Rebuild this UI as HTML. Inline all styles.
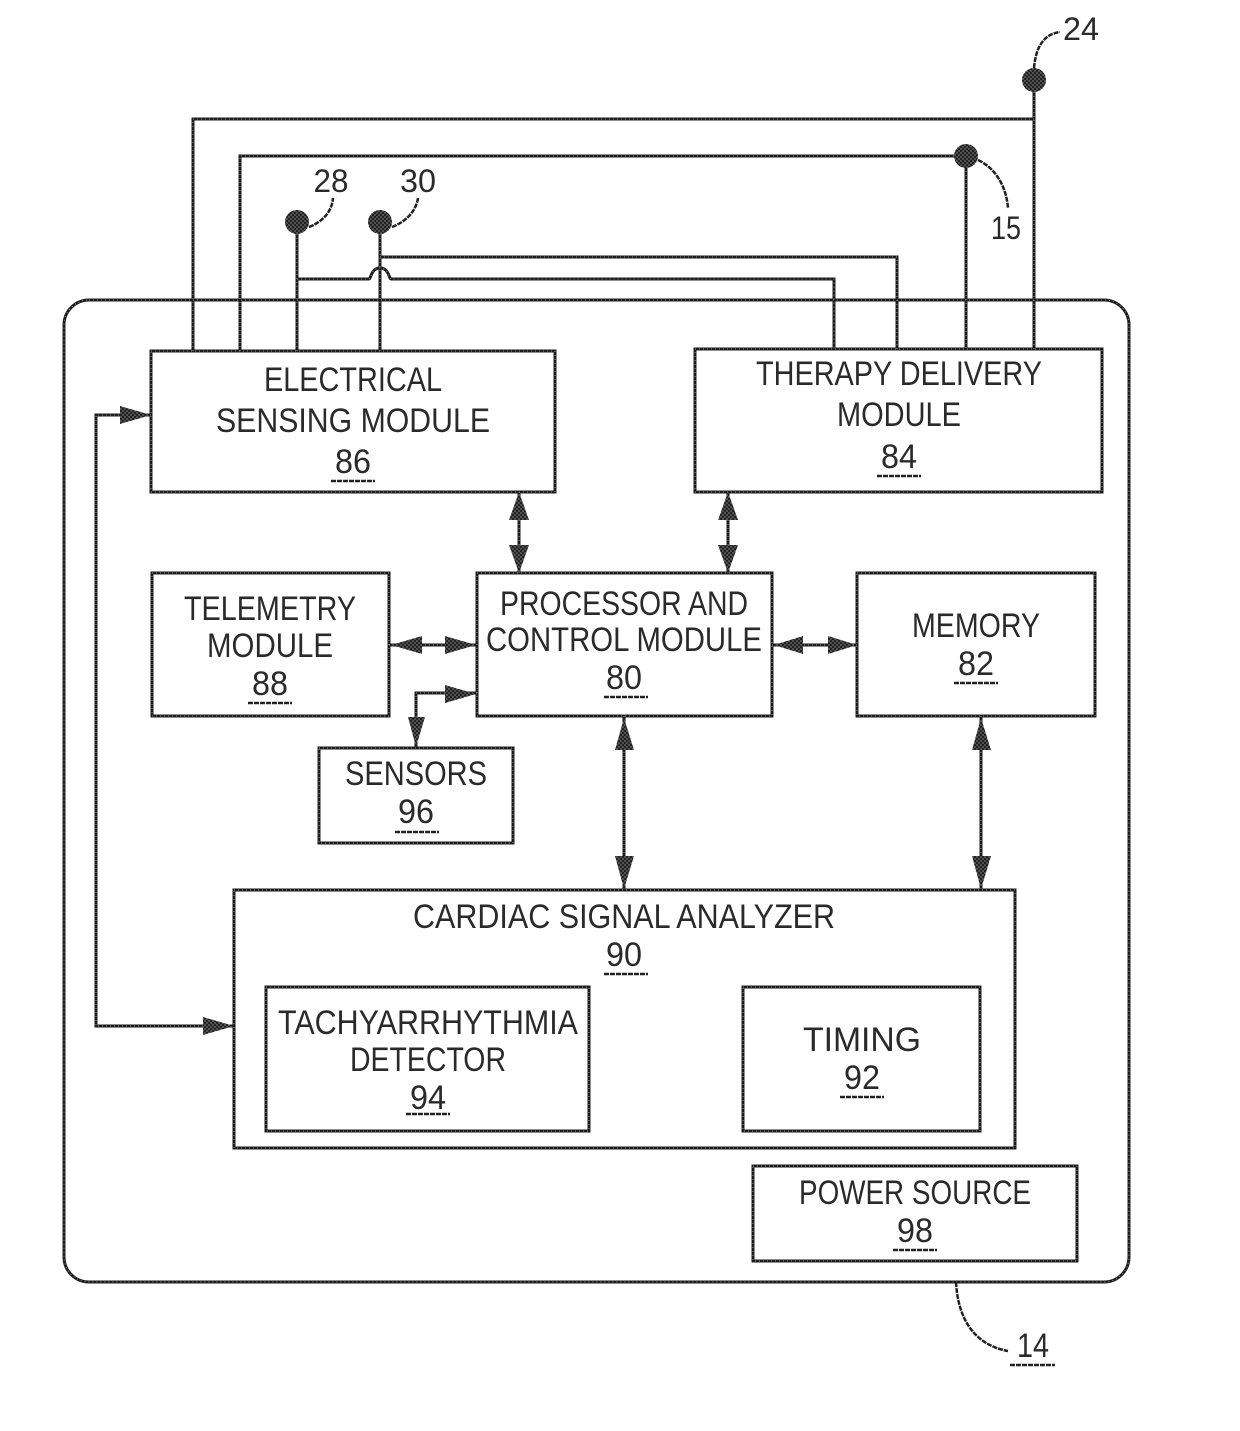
<!DOCTYPE html>
<html>
<head>
<meta charset="utf-8">
<style>
html,body{margin:0;padding:0;background:#fff;}
svg{display:block;}
text{font-family:"Liberation Sans",sans-serif;font-size:34px;fill:#2a2a2a;text-anchor:middle;}
.b,.w{fill:none;stroke:var(--s,#1c1c1c);stroke-width:var(--sw,3);stroke-dasharray:var(--da,none);}
.t{fill:none;stroke:#222;stroke-width:2.5;stroke-dasharray:5 1;}
.a,.d{fill:url(#dots);stroke:none;}
.over{--s:#fff;--sw:1;--da:1 3;opacity:.55;}
</style>
</head>
<body>
<svg width="1240" height="1431" viewBox="0 0 1240 1431" xmlns="http://www.w3.org/2000/svg">
<defs>
<pattern id="dots" width="4" height="4" patternUnits="userSpaceOnUse">
<rect width="4" height="4" fill="#222"/>
<circle cx="1" cy="1" r=".6" fill="#fff" opacity=".75"/>
<circle cx="3" cy="3" r=".6" fill="#fff" opacity=".75"/>
</pattern>
</defs>
<rect width="1240" height="1431" fill="#fff"/>
<g id="lines">
<!-- housing -->
<rect class="b" x="64" y="300" width="1065" height="982" rx="25" ry="25"/>
<!-- wires -->
<path class="w" d="M193 351V119H1034M1034 80V349"/>
<path class="w" d="M240 351V156H966V349"/>
<path class="w" d="M297 222V351M380 222V351"/>
<path class="w" d="M297 279H369C371 279 371 268 380 268C389 268 389 279 391 279H834V349"/>
<path class="w" d="M380 257H897V349"/>
<!-- boxes -->
<rect class="b" x="151" y="351" width="404" height="141"/>
<rect class="b" x="695" y="349" width="407" height="143"/>
<rect class="b" x="152" y="573" width="237" height="143"/>
<rect class="b" x="477" y="573" width="295" height="143"/>
<rect class="b" x="857" y="573" width="238" height="143"/>
<rect class="b" x="319" y="748" width="194" height="95"/>
<rect class="b" x="234" y="890" width="781" height="258"/>
<rect class="b" x="266" y="987" width="323" height="144"/>
<rect class="b" x="743" y="987" width="237" height="144"/>
<rect class="b" x="753" y="1166" width="324" height="95"/>
<!-- connector lines -->
<path class="w" d="M519 492V573M728 492V573M389 645H477M772 645H857M477 693H416V748M624 716V890M981 716V890M151 415H96V1026H234"/>
</g>
<g class="over"><use href="#lines"/></g>
<!-- terminals -->
<circle class="d" cx="1034" cy="80" r="12"/>
<circle class="d" cx="966" cy="156" r="12"/>
<circle class="d" cx="297" cy="222" r="12"/>
<circle class="d" cx="380" cy="222" r="12"/>
<!-- leaders -->
<path class="t" d="M1034 68C1036 45 1045 34 1060 32"/>
<path class="t" d="M978 160C995 168 1006 185 1008 208"/>
<path class="t" d="M309 227C322 222 332 212 333 198"/>
<path class="t" d="M392 227C405 222 416 212 418 198"/>
<path class="t" d="M956 1282C958 1320 975 1345 1008 1351"/>
<!-- arrowheads -->
<path class="a" d="M519 492L509 520H529Z M519 573L509 545H529Z"/>
<path class="a" d="M728 492L718 520H738Z M728 573L718 545H738Z"/>
<path class="a" d="M391 645L422 636V654Z M476 645L445 636V654Z"/>
<path class="a" d="M774 645L803 636V654Z M857 645L828 636V654Z"/>
<path class="a" d="M476 694L445 685V703Z M416 747L408 717H425Z"/>
<path class="a" d="M624 718L615 750H634Z M624 889L615 856H634Z"/>
<path class="a" d="M981 718L972 750H991Z M981 889L972 856H991Z"/>
<path class="a" d="M151 415L120 406V424Z"/>
<path class="a" d="M234 1026L203 1017V1035Z"/>
<!-- labels -->
<g transform="translate(0,-1)">
<text x="1081" y="41" textLength="36" lengthAdjust="spacingAndGlyphs" style="font-size:32px">24</text>
<text x="331" y="193" textLength="35" lengthAdjust="spacingAndGlyphs" style="font-size:32px">28</text>
<text x="418" y="193" textLength="36" lengthAdjust="spacingAndGlyphs" style="font-size:32px">30</text>
<text x="1006" y="240" textLength="30" lengthAdjust="spacingAndGlyphs" style="font-size:32px">15</text>
<text x="353" y="392" textLength="178" lengthAdjust="spacingAndGlyphs">ELECTRICAL</text>
<text x="353" y="433" textLength="274" lengthAdjust="spacingAndGlyphs">SENSING MODULE</text>
<text x="353" y="474" textLength="36" lengthAdjust="spacingAndGlyphs">86</text>
<text x="899" y="386" textLength="286" lengthAdjust="spacingAndGlyphs">THERAPY DELIVERY</text>
<text x="899" y="427" textLength="124" lengthAdjust="spacingAndGlyphs">MODULE</text>
<text x="899" y="469" textLength="36" lengthAdjust="spacingAndGlyphs">84</text>
<text x="270" y="621" textLength="172" lengthAdjust="spacingAndGlyphs">TELEMETRY</text>
<text x="270" y="658" textLength="126" lengthAdjust="spacingAndGlyphs">MODULE</text>
<text x="270" y="696" textLength="36" lengthAdjust="spacingAndGlyphs">88</text>
<text x="624" y="616" textLength="248" lengthAdjust="spacingAndGlyphs">PROCESSOR AND</text>
<text x="624" y="652" textLength="276" lengthAdjust="spacingAndGlyphs">CONTROL MODULE</text>
<text x="624" y="690" textLength="36" lengthAdjust="spacingAndGlyphs">80</text>
<text x="976" y="638" textLength="128" lengthAdjust="spacingAndGlyphs">MEMORY</text>
<text x="976" y="676" textLength="36" lengthAdjust="spacingAndGlyphs">82</text>
<text x="416" y="786" textLength="142" lengthAdjust="spacingAndGlyphs">SENSORS</text>
<text x="416" y="824" textLength="36" lengthAdjust="spacingAndGlyphs">96</text>
<text x="624" y="929" textLength="422" lengthAdjust="spacingAndGlyphs">CARDIAC SIGNAL ANALYZER</text>
<text x="624" y="967" textLength="36" lengthAdjust="spacingAndGlyphs">90</text>
<text x="428" y="1035" textLength="300" lengthAdjust="spacingAndGlyphs">TACHYARRHYTHMIA</text>
<text x="428" y="1072" textLength="156" lengthAdjust="spacingAndGlyphs">DETECTOR</text>
<text x="428" y="1110" textLength="36" lengthAdjust="spacingAndGlyphs">94</text>
<text x="862" y="1052" textLength="118" lengthAdjust="spacingAndGlyphs">TIMING</text>
<text x="862" y="1090" textLength="36" lengthAdjust="spacingAndGlyphs">92</text>
<text x="915" y="1205" textLength="232" lengthAdjust="spacingAndGlyphs">POWER SOURCE</text>
<text x="915" y="1243" textLength="36" lengthAdjust="spacingAndGlyphs">98</text>
<text x="1033" y="1358" textLength="32" lengthAdjust="spacingAndGlyphs">14</text>
</g>
<!-- reference-number underlines -->
<path class="t" d="M331 481H375M877 476H921M248 703H292M604 697H648M954 683H998M395 832H439M604 974H648M406 1114H450M840 1097H884M893 1250H937M1010 1365H1055"/>
</svg>
</body>
</html>
